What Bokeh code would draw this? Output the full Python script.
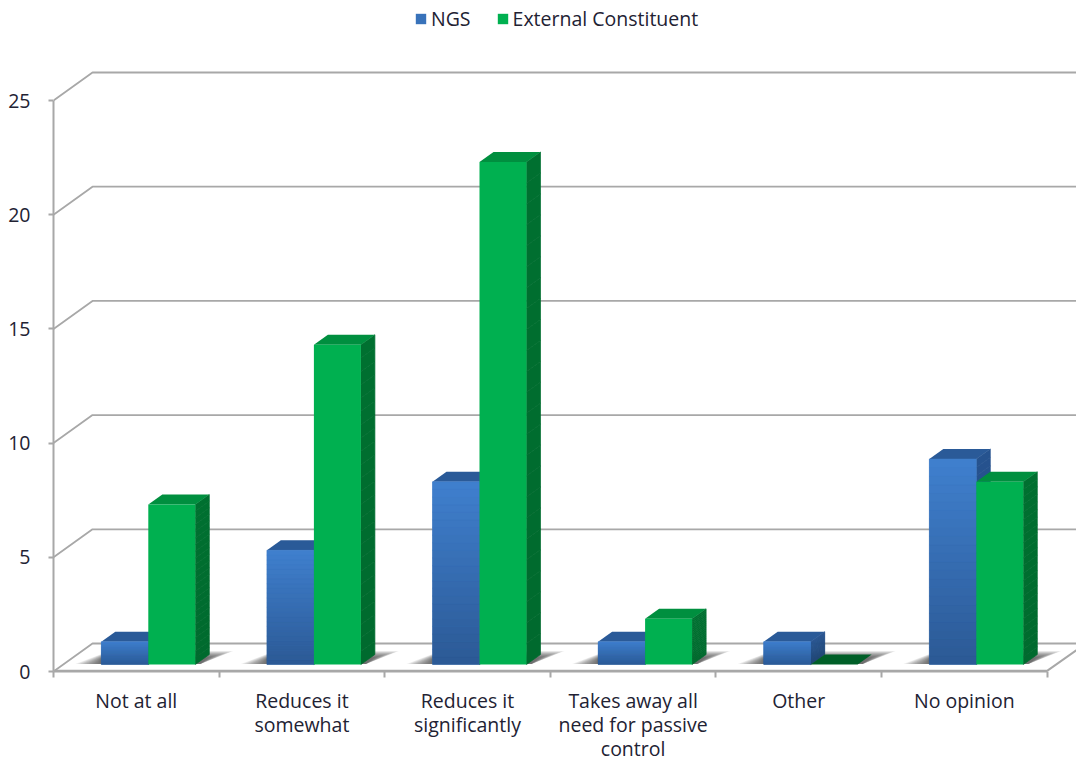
from bokeh.embed import file_html
from bokeh.models import FixedTicker, Legend, LegendItem, LinearAxis, Range1d
from bokeh.plotting import figure
from bokeh.resources import INLINE

categories = ["Not at all", "Reduces it\nsomewhat", "Reduces it\nsignificantly",
              "Takes away all\nneed for passive\ncontrol", "Other", "No opinion"]
ngs = [1, 5, 8, 1, 1, 9]
external = [7, 14, 22, 2, 0, 8]
y_ticks = [0, 5, 10, 15, 20, 25]

PX_X = 165.6          # pixels per category
PX_Y = 22.84          # pixels per value unit
FRAME_W, FRAME_H = 1023, 671


def ux(px):
    return px / PX_X


def uy(px):
    return px / PX_Y


BAR_W = ux(47)
BAR_SHIFT = ux(12)
BASE = uy(7)          # bar feet sit a little behind the front floor edge
DEPTH_X, DEPTH_Y = ux(14), uy(10)
WALL_X, WALL_Y = ux(39), uy(28)
GRID = "#a8a8a8"
FONT = "Open Sans"
FONT_SIZE = "19.5px"
TEXT = "#222233"

p = figure(width=1076, height=765, frame_width=FRAME_W, frame_height=FRAME_H,
           output_backend="svg", toolbar_location=None,
           x_axis_type=None, y_axis_type=None,
           x_range=Range1d(0, FRAME_W / PX_X), y_range=Range1d(0, FRAME_H / PX_Y),
           min_border_left=53, min_border_right=0, min_border_top=0, min_border_bottom=94,
           outline_line_color=None, background_fill_color="white")
p.grid.visible = False

# Wall and floor rules
for t in y_ticks:
    p.line([0, WALL_X, FRAME_W / PX_X + 1], [t, t + WALL_Y, t + WALL_Y],
           line_color=GRID, line_width=1.8)
p.line([0, 6, 6 + WALL_X], [0.03, 0.03, WALL_Y], line_color=GRID, line_width=2)


def blend(a, b, f):
    ca = [int(a[i:i + 2], 16) for i in (1, 3, 5)]
    cb = [int(b[i:i + 2], 16) for i in (1, 3, 5)]
    return "#%02x%02x%02x" % tuple(round(x + (y - x) * f) for x, y in zip(ca, cb))


# Soft floor shadow behind each pair of bars
for i in range(len(categories)):
    cx = i + 0.5 + BAR_SHIFT
    for k in range(14):
        left_foot = cx - BAR_W - ux(26 - 1.9 * k)
        right_foot = cx + BAR_W + ux(5)
        back_left = cx - BAR_W + ux(8 - 0.6 * k)
        back_right = cx + BAR_W + ux(38 - 1.9 * k)
        back = BASE + uy(13.5 - 0.5 * k)
        p.patch([left_foot, right_foot, back_right, back_left],
                [BASE + uy(0.5), BASE + uy(0.5), back, back],
                fill_color="#303030", fill_alpha=0.08, line_color=None)


def draw_bars(values, offset, c_top, c_bottom, c_cap, c_side_top, c_side_bottom):
    lefts = [i + 0.5 + BAR_SHIFT + offset for i in range(len(values))]
    rights = [x + BAR_W for x in lefts]
    tops = [BASE + v for v in values]
    n = 24
    # side faces
    for r, v in zip(rights, values):
        if v == 0:
            continue
        for s in range(n):
            b0 = BASE + v * s / n
            b1 = BASE + v * (s + 1) / n
            c = blend(c_side_bottom, c_side_top, s / (n - 1))
            p.patch([r, r + DEPTH_X, r + DEPTH_X, r],
                    [b0, b0 + DEPTH_Y, b1 + DEPTH_Y, b1],
                    fill_color=c, line_color=c, line_width=0.7)
    # cap faces
    for l, r, t, v in zip(lefts, rights, tops, values):
        cap = c_cap if v > 0 else "#005f28"
        p.patch([l, r, r + DEPTH_X, l + DEPTH_X], [t, t, t + DEPTH_Y, t + DEPTH_Y],
                fill_color=cap, line_color=None)
    # solid front face, shaded in thin horizontal bands above it
    base = p.quad(left=lefts, right=rights, bottom=[BASE] * len(values), top=tops,
                  fill_color=blend(c_top, c_bottom, 0.35), line_color=None)
    if c_top != c_bottom:
        sl, sr, sb, st, sc = [], [], [], [], []
        for l, r, v in zip(lefts, rights, values):
            for s in range(n):
                sl.append(l)
                sr.append(r)
                sb.append(BASE + v * s / n)
                st.append(BASE + v * (s + 1) / n)
                sc.append(blend(c_bottom, c_top, s / (n - 1)))
        p.quad(left=sl, right=sr, bottom=sb, top=st, fill_color=sc, line_color=sc, line_width=0.4)
    return base


# Later series overlap the earlier one, so the green bars are drawn second
r_ngs = draw_bars(ngs, -BAR_W, "#3f7fcd", "#2c5a96", "#2a5a98", "#26538f", "#1f4675")
r_ext = draw_bars(external, 0, "#00b050", "#00b050", "#008f3f", "#007030", "#006a2e")

# Axes
y_axis = LinearAxis(ticker=FixedTicker(ticks=y_ticks), bounds=(0, 25),
                    axis_line_color=GRID, axis_line_width=2,
                    major_tick_line_color=GRID, major_tick_line_width=2,
                    major_tick_out=5, major_tick_in=0, minor_tick_out=0, minor_tick_in=0,
                    major_label_text_font=FONT, major_label_text_font_size=FONT_SIZE,
                    major_label_text_color=TEXT, major_label_standoff=18)
p.add_layout(y_axis, "left")

x_axis = LinearAxis(ticker=FixedTicker(ticks=[i + 0.5 for i in range(6)],
                                       minor_ticks=list(range(7))),
                    bounds=(0, 6), axis_line_color=GRID, axis_line_width=2,
                    major_tick_out=0, major_tick_in=0,
                    minor_tick_line_color=GRID, minor_tick_line_width=2,
                    minor_tick_out=6, minor_tick_in=0,
                    major_label_overrides={i + 0.5: c for i, c in enumerate(categories)},
                    major_label_text_font=FONT, major_label_text_font_size=FONT_SIZE,
                    major_label_text_color=TEXT, major_label_standoff=9,
                    major_label_text_line_height=0.9)
p.add_layout(x_axis, "below")

legend = Legend(items=[LegendItem(label="NGS", renderers=[r_ngs]),
                       LegendItem(label="External Constituent", renderers=[r_ext])],
                orientation="horizontal", location=(361, 639),
                border_line_color=None, background_fill_alpha=0,
                glyph_width=13, glyph_height=13, label_text_font=FONT,
                label_text_font_size=FONT_SIZE, label_text_color=TEXT,
                label_standoff=4, spacing=25, padding=4, margin=0)
p.add_layout(legend, "center")

open("out.html", "w").write(file_html(p, INLINE))
